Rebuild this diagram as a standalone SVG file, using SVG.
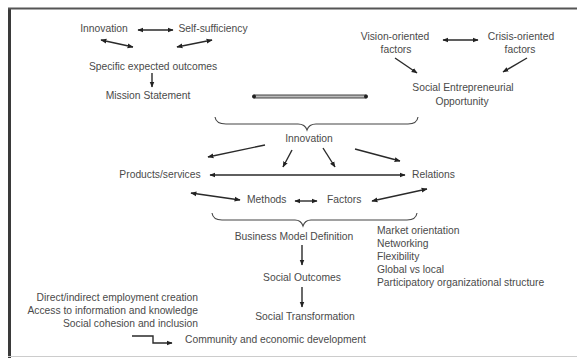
<svg xmlns="http://www.w3.org/2000/svg" width="577" height="358" viewBox="0 0 577 358">
<style>
text{font-family:"Liberation Sans",Arial,sans-serif;font-size:10.3px;fill:#4a4a4a}
.c{text-anchor:middle}
.e{text-anchor:end}
.ln{stroke:#2a2a2a;stroke-width:1.4;fill:none}
.b{marker-end:url(#ah);marker-start:url(#ah)}
.a{marker-end:url(#ah)}
.br{stroke:#444;stroke-width:1.1;fill:none}
</style>
<defs>
<marker id="ah" viewBox="0 0 10 10" refX="9" refY="5" markerWidth="6" markerHeight="6" markerUnits="userSpaceOnUse" orient="auto-start-reverse">
<path d="M0,1 L10,5 L0,9 z" fill="#222"/>
</marker>
</defs>
<rect width="577" height="358" fill="#fff"/>
<g id="frame">
<rect x="8" y="8" width="3" height="350" fill="#3a3a3a"/>
<line x1="8" y1="8.5" x2="577" y2="8.5" stroke="#555" stroke-width="2"/>
<line x1="8" y1="356.5" x2="577" y2="356.5" stroke="#ccc" stroke-width="1"/>
</g>
<g id="connectors">
<line class="ln b" x1="138" y1="30" x2="173" y2="30"/>
<line class="ln b" x1="101" y1="40" x2="133" y2="47"/>
<line class="ln b" x1="212" y1="40" x2="177" y2="47"/>
<line class="ln a" x1="152" y1="73" x2="152" y2="87"/>
<rect x="254" y="95" width="112" height="3" fill="#bbb" stroke="#333" stroke-width="0.9"/>
<circle cx="254" cy="96.5" r="2" fill="#222"/>
<circle cx="366" cy="96.5" r="2" fill="#222"/>
<line class="ln b" x1="443" y1="40" x2="478" y2="40"/>
<line class="ln a" x1="395" y1="58" x2="417" y2="73"/>
<line class="ln a" x1="527" y1="58" x2="503" y2="72"/>
<path class="br" d="M215,117 Q216,124 226,124 H298 Q305,124 307,130 Q309,124 316,124 H408 Q417,124 418,117"/>
<line class="ln a" x1="265" y1="145" x2="208" y2="157"/>
<line class="ln a" x1="292" y1="150" x2="283" y2="167"/>
<line class="ln a" x1="323" y1="148" x2="335" y2="167"/>
<line class="ln a" x1="355" y1="149" x2="400" y2="161"/>
<line class="ln b" x1="210" y1="175" x2="405" y2="175" stroke-width="1.1"/>
<line class="ln b" x1="191" y1="193" x2="240" y2="200"/>
<line class="ln b" x1="295" y1="201" x2="317" y2="201"/>
<line class="ln b" x1="372" y1="201" x2="427" y2="189"/>
<path class="br" d="M212,213 Q213,220 222,220 H295 Q301,220 303,226 Q305,220 311,220 H407 Q416,220 417,213"/>
<line class="ln a" x1="302" y1="245" x2="302" y2="265"/>
<line class="ln a" x1="302" y1="287" x2="302" y2="307"/>
<path class="ln a" d="M132,336 H153 V343 H172"/>
</g>
<g id="n-innovation-top"><text class="c" x="104" y="32">Innovation</text></g>
<g id="n-self-sufficiency"><text class="c" x="213" y="32">Self-sufficiency</text></g>
<g id="n-specific"><text class="c" x="153" y="70">Specific expected outcomes</text></g>
<g id="n-mission"><text class="c" x="148" y="99">Mission Statement</text></g>
<g id="n-vision"><text class="c" x="395" y="40">Vision-oriented</text><text class="c" x="396" y="53">factors</text></g>
<g id="n-crisis"><text class="c" x="521" y="40">Crisis-oriented</text><text class="c" x="520" y="53">factors</text></g>
<g id="n-opportunity"><text class="c" x="463" y="91">Social Entrepreneurial</text><text class="c" x="462" y="105">Opportunity</text></g>
<g id="n-innovation"><text class="c" x="309" y="142">Innovation</text></g>
<g id="n-products"><text class="c" x="160" y="178">Products/services</text></g>
<g id="n-relations"><text x="412" y="178">Relations</text></g>
<g id="n-methods"><text x="247" y="203">Methods</text></g>
<g id="n-factors"><text x="327" y="203">Factors</text></g>
<g id="n-bmd"><text class="c" x="294" y="240">Business Model Definition</text></g>
<g id="n-outcomes"><text class="c" x="302" y="281">Social Outcomes</text></g>
<g id="n-transformation"><text class="c" x="305" y="320">Social Transformation</text></g>
<g id="n-community"><text x="185" y="343">Community and economic development</text></g>
<g id="n-left-list">
<text class="e" x="198" y="301">Direct/indirect employment creation</text>
<text class="e" x="198" y="314">Access to information and knowledge</text>
<text class="e" x="198" y="327">Social cohesion and inclusion</text>
</g>
<g id="n-right-list">
<text x="377" y="234">Market orientation</text>
<text x="377" y="247">Networking</text>
<text x="377" y="260">Flexibility</text>
<text x="377" y="273">Global vs local</text>
<text x="377" y="286">Participatory organizational structure</text>
</g>
</svg>
